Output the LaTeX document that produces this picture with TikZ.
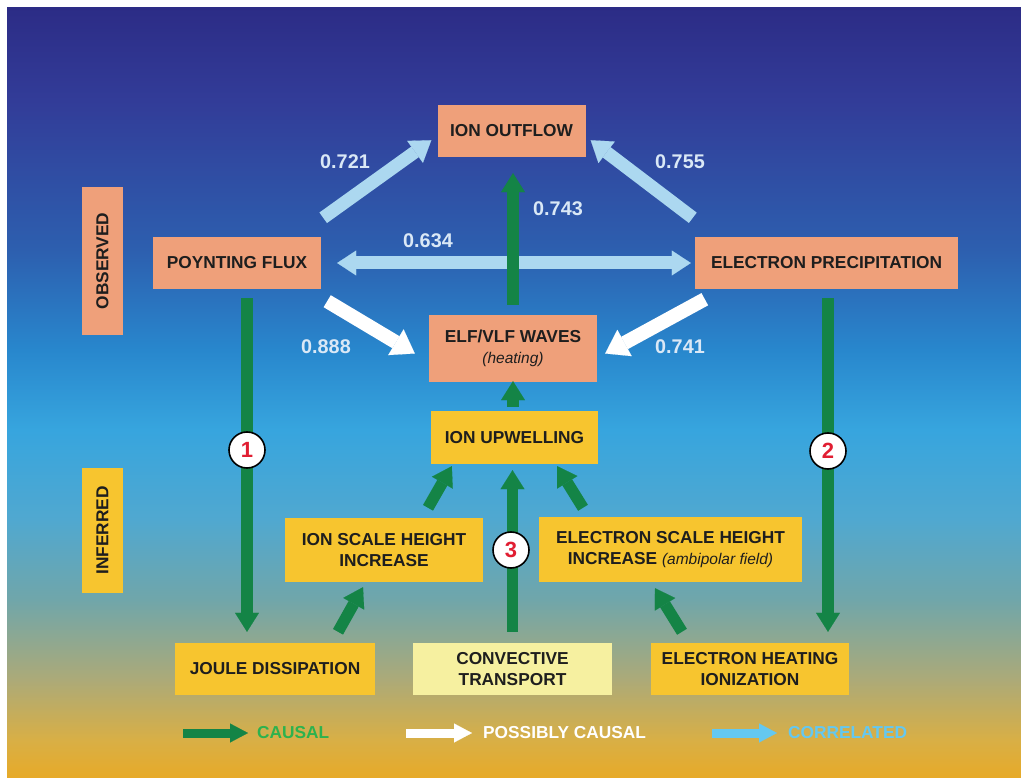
\documentclass[tikz,border=0pt]{standalone}
\usepackage{fontspec}
\setmainfont{Liberation Sans}
\usetikzlibrary{arrows.meta,calc}
\definecolor{b0}{RGB}{231,170,40}
\definecolor{b1}{RGB}{216,175,70}
\definecolor{b2}{RGB}{172,170,120}
\definecolor{b3}{RGB}{112,166,170}
\definecolor{b4}{RGB}{80,168,208}
\definecolor{b5}{RGB}{55,165,222}
\definecolor{b6}{RGB}{40,135,205}
\definecolor{b7}{RGB}{45,95,175}
\definecolor{b8}{RGB}{50,60,152}
\definecolor{b9}{RGB}{44,44,134}
\definecolor{salmon}{RGB}{239,160,122}
\definecolor{yel}{RGB}{247,197,47}
\definecolor{pale}{RGB}{246,240,160}
\definecolor{txt}{RGB}{30,30,30}
\definecolor{cgreen}{RGB}{20,132,70}
\definecolor{corrc}{RGB}{172,216,240}
\definecolor{labc}{RGB}{218,232,246}
\definecolor{causaltxt}{RGB}{45,178,78}
\definecolor{corrtxt}{RGB}{100,200,240}
\definecolor{numred}{RGB}{225,30,50}
\newcommand{\smallit}{\fontsize{15.5}{20}\selectfont\mdseries\itshape}
\pgfdeclareverticalshading{bgshade}{100bp}{color(0bp)=(b0); color(25bp)=(b0); color(27.5bp)=(b1); color(31.4bp)=(b2); color(36.6bp)=(b3); color(41.8bp)=(b4); color(47.6bp)=(b5); color(52.8bp)=(b6); color(59.3bp)=(b7); color(69bp)=(b8); color(75bp)=(b9); color(100bp)=(b9)}
\begin{document}
\begin{tikzpicture}[x=1pt,y=-1pt,
  boxbase/.style={inner sep=0pt, align=center, text=txt, font=\fontsize{17.3}{21.5}\selectfont\bfseries},
  obs/.style={boxbase, fill=salmon},
  inf/.style={boxbase, fill=yel},
  palebox/.style={boxbase, fill=pale},
  lab/.style={text=labc, font=\fontsize{19.8}{22}\selectfont\bfseries},
  num/.style={circle, draw=black, line width=1.6pt, fill=white, minimum size=36pt, inner sep=0pt, text=numred, font=\fontsize{22}{22}\selectfont\bfseries},
  causal/.style={draw=cgreen, line width=11.5pt, -{Triangle[length=19pt,width=24pt,line width=0.1pt]}},
  corr/.style={draw=corrc, line width=13pt, -{Triangle[length=20pt,width=27pt,line width=0.1pt]}},
  corrboth/.style={draw=corrc, line width=13pt, {Triangle[length=19pt,width=25pt,line width=0.1pt]}-{Triangle[length=19pt,width=25pt,line width=0.1pt]}},
  poss/.style={draw=white, line width=14pt, -{Triangle[length=22pt,width=30pt,line width=0.1pt]}},
  legarrow/.style={line width=9pt, -{Triangle[length=18pt,width=19pt,line width=0.1pt]}},
  legtxt/.style={anchor=west, inner sep=0pt, font=\fontsize{17.3}{20}\selectfont\bfseries}
]
\useasboundingbox (0,0) rectangle (1021,778);
\fill[white] (0,0) rectangle (1021,778);
\shade[shading=bgshade] (7,8) rectangle (1021,778);

% side labels
\node[obs, minimum width=148pt, minimum height=41pt, rotate=90] (obsl) at (102.5,261) {OBSERVED};
\node[inf, minimum width=125pt, minimum height=41pt, rotate=90] (infl) at (102.5,530.5) {INFERRED};

% nodes
\node[obs, minimum width=148pt, minimum height=52pt] (io) at (511.5,131) {ION OUTFLOW};
\node[obs, minimum width=168pt, minimum height=52pt] (pf) at (237,263) {POYNTING FLUX};
\node[obs, minimum width=263pt, minimum height=52pt] (ep) at (826.5,263) {ELECTRON PRECIPITATION};
\node[obs, minimum width=168pt, minimum height=67pt] (elf) at (513,348.5) {ELF/VLF WAVES\\[-1pt]{\smallit (heating)}};
\node[inf, minimum width=167pt, minimum height=53pt] (up) at (514.5,437.5) {ION UPWELLING};
\node[inf, minimum width=198pt, minimum height=64pt] (ish) at (384,550) {ION SCALE HEIGHT\\INCREASE};
\node[inf, minimum width=263pt, minimum height=65pt] (esh) at (670.5,549.5) {ELECTRON SCALE HEIGHT\\INCREASE {\smallit (ambipolar field)}};
\node[inf, minimum width=200pt, minimum height=52pt] (jd) at (275,669) {JOULE DISSIPATION};
\node[palebox, minimum width=199pt, minimum height=52pt] (ct) at (512.5,669) {CONVECTIVE\\TRANSPORT};
\node[inf, minimum width=198pt, minimum height=52pt] (eh) at (750,669) {ELECTRON HEATING\\IONIZATION};

% correlated arrows
\draw[corr] ([shift={(2,-19)}]pf.north east) -- ([shift={(-6,-17)}]io.south west);
\draw[corr] ([shift={(-2,-19)}]ep.north west) -- ([shift={(5,-17)}]io.south east);
\draw[corrboth] ([shift={(16,0)}]pf.east) -- ([shift={(-4,0)}]ep.west);

% possibly causal arrows
\draw[poss] ([shift={(6,12)}]pf.south east) -- ([shift={(-14,5)}]elf.west);
\draw[poss] ([shift={(10,10)}]ep.south west) -- ([shift={(8,5)}]elf.east);

% causal arrows
\draw[causal] ([shift={(0,-10)}]elf.north) -- ([shift={(1.5,16)}]io.south);
\draw[causal] ([shift={(-1.5,-4)}]up.north) -- ([shift={(0,-1)}]elf.south);
\draw[causal] ([shift={(10,9)}]pf.south) -- ([shift={(-28,-11)}]jd.north);
\draw[causal] ([shift={(1.5,9)}]ep.south) -- ([shift={(78,-11)}]eh.north);
\draw[causal] ([shift={(0,-11)}]ct.north) -- ([shift={(-2,6)}]up.south);
\draw[causal] ([shift={(44,-10)}]ish.north) -- ([shift={(21,2)}]up.south west);
\draw[causal] ([shift={(-87.5,-9)}]esh.north) -- ([shift={(-41,2)}]up.south east);
\draw[causal] ([shift={(63,-11)}]jd.north) -- ([shift={(-21,5)}]ish.south);
\draw[causal] ([shift={(-68,-11)}]eh.north) -- ([shift={(-15.5,6)}]esh.south);

% numbered circles
\node[num] (c1) at (247,450) {1};
\node[num] (c2) at (828,451) {2};
\node[num] (c3) at (511,550) {3};

% correlation labels
\node[lab] (l721) at (345,162) {0.721};
\node[lab] (l755) at (680,162) {0.755};
\node[lab] (l743) at (558,209) {0.743};
\node[lab] (l634) at (428,241) {0.634};
\node[lab] (l888) at (326,347) {0.888};
\node[lab] (l741) at (680,347) {0.741};

% legend
\node[legtxt, text=causaltxt] (lgc) at (257,733) {CAUSAL};
\node[legtxt, text=white] (lgp) at (483,733) {POSSIBLY CAUSAL};
\node[legtxt, text=corrtxt] (lgr) at (788,733) {CORRELATED};
\coordinate (lgc0) at (183,733);
\coordinate (lgp0) at (406,733);
\coordinate (lgr0) at (712,733);
\draw[legarrow, draw=cgreen] (lgc0) -- ([shift={(-9,0)}]lgc.west);
\draw[legarrow, draw=white] (lgp0) -- ([shift={(-11,0)}]lgp.west);
\draw[legarrow, draw=corrtxt] (lgr0) -- ([shift={(-11,0)}]lgr.west);
\end{tikzpicture}
\end{document}
